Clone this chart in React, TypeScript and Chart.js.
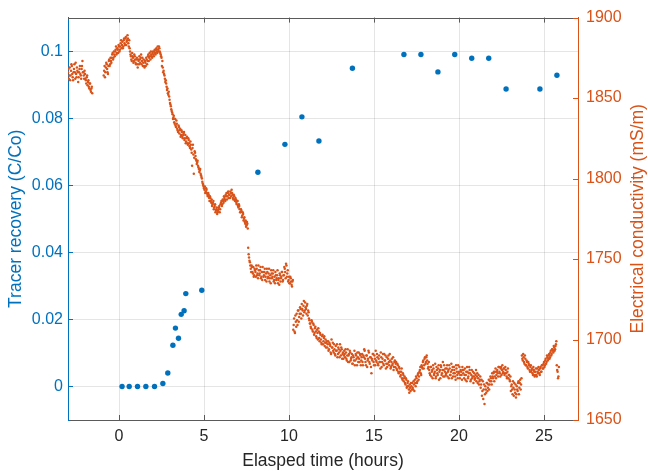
import { useEffect, useRef } from "react";
import { Chart, registerables } from "chart.js";

Chart.register(...registerables);

// ---------- Data ----------
const tracerTime = [0.18, 0.6, 1.09, 1.58, 2.09, 2.58, 2.87, 3.17, 3.32, 3.5, 3.66, 3.83, 3.93, 4.87, 8.17, 9.76, 10.76, 11.76, 13.73, 16.76, 17.76, 18.76, 19.75, 20.75, 21.75, 22.77, 24.76, 25.76];
const tracerRecovery = [0, 0, 0, 0, 0, 0.0009, 0.004, 0.0123, 0.0174, 0.0144, 0.0215, 0.0226, 0.0277, 0.0287, 0.0639, 0.0722, 0.0804, 0.0732, 0.0949, 0.099, 0.099, 0.0938, 0.099, 0.0979, 0.0979, 0.0887, 0.0887, 0.0928];

// Electrical conductivity logger: two interleaved channels (A on the 0.05 h grid, B offset by 0.025 h)
const ecStep = 0.05;
const ecOffsetB = 0.025;

const ecPreStart = -3.0;
const ecPre = [1866, 1862, 1869, 1864, 1871, 1865, 1861, 1868, 1866, 1872, 1863, 1867, 1860, 1866, 1870, 1864, 1868, 1873, 1866, 1862, 1865, 1861, 1863, 1858, 1861, 1856, 1859, 1854, 1857];
const ecPreB = [1868, 1864, 1861, 1867, 1870, 1863, 1866, 1871, 1862, 1865, 1869, 1866, 1863, 1868, 1865, 1862, 1870, 1866, 1864, 1867, 1862, 1859, 1864, 1860, 1857, 1859, 1855, 1856, 1853];

const ecRiseStart = -0.9;
const ecRise = [1864, 1870, 1866, 1872, 1868, 1865, 1873, 1870, 1875, 1872, 1877, 1874, 1879, 1876, 1880, 1877, 1881, 1878, 1882, 1880,
  1884, 1881, 1885, 1882, 1887, 1883, 1888, 1885, 1889, 1884, 1886, 1879, 1876, 1873, 1876, 1872, 1877, 1874, 1871, 1875,
  1869, 1873, 1876, 1872, 1877, 1873, 1870, 1874, 1869, 1872, 1875, 1871, 1876, 1873, 1878, 1874, 1877, 1875, 1879, 1876,
  1880, 1877, 1881, 1878, 1880, 1882, 1879, 1877, 1875];
const ecRiseB = [1867, 1863, 1869, 1871, 1866, 1870, 1874, 1871, 1873, 1875, 1878, 1875, 1877, 1879, 1882, 1878, 1880, 1883, 1879, 1882,
  1886, 1883, 1881, 1886, 1884, 1887, 1883, 1886, 1887, 1882, 1881, 1877, 1874, 1878, 1875, 1873, 1876, 1872, 1874, 1871,
  1874, 1871, 1874, 1875, 1871, 1875, 1872, 1870, 1873, 1870, 1874, 1873, 1877, 1875, 1876, 1879, 1876, 1878, 1877, 1879,
  1878, 1880, 1879, 1882, 1879, 1881, 1878, 1876, 1870];

const ecDropStart = 2.55;
const ecDrop = [1873, 1866, 1865, 1862, 1861, 1857, 1856, 1852, 1851, 1847, 1845, 1842, 1840, 1838, 1835, 1837, 1832, 1834, 1830, 1833,
  1828, 1831, 1827, 1829, 1825, 1828, 1824, 1827, 1823, 1826, 1821, 1824, 1820, 1823, 1818, 1808, 1821, 1803, 1817, 1814,
  1811, 1810, 1808, 1806, 1805, 1803, 1801, 1798, 1796, 1794, 1795, 1792, 1793, 1790, 1791, 1788, 1789, 1786, 1787, 1784,
  1786, 1782, 1784, 1780, 1782, 1779, 1781, 1783, 1781, 1785, 1783, 1787, 1785, 1788, 1786, 1789, 1787, 1791, 1788, 1790,
  1792, 1789, 1791, 1788, 1790, 1787, 1788, 1785, 1786, 1783, 1784, 1781, 1779, 1780, 1777, 1778, 1775, 1773, 1774, 1771,
  1772];
const ecDropB = [1869, 1867, 1864, 1860, 1859, 1855, 1853, 1854, 1849, 1846, 1843, 1841, 1837, 1839, 1834, 1833, 1836, 1831, 1829, 1832,
  1830, 1826, 1830, 1826, 1827, 1829, 1825, 1822, 1825, 1822, 1825, 1822, 1819, 1821, 1816, 1819, 1815, 1813, 1816, 1812,
  1809, 1811, 1807, 1804, 1806, 1802, 1800, 1797, 1795, 1793, 1791, 1794, 1791, 1789, 1790, 1786, 1788, 1785, 1783, 1785,
  1781, 1783, 1779, 1781, 1778, 1780, 1782, 1779, 1784, 1786, 1784, 1786, 1789, 1787, 1790, 1791, 1789, 1792, 1790, 1788,
  1791, 1793, 1790, 1787, 1789, 1786, 1787, 1784, 1786, 1782, 1783, 1779, 1781, 1776, 1779, 1774, 1776, 1772, 1770, 1773,
  1769];

const ecMidStart = 7.6;
const ecMid = [1757, 1751, 1748, 1744, 1746, 1742, 1745, 1740, 1743, 1739, 1744, 1741, 1746, 1740, 1743, 1738, 1742, 1745, 1739, 1742,
  1737, 1741, 1744, 1738, 1741, 1736, 1740, 1743, 1738, 1741, 1736, 1739, 1742, 1737, 1740, 1735, 1738, 1741, 1736, 1739,
  1742, 1737, 1740, 1744, 1738, 1746, 1741, 1736, 1739, 1735, 1738, 1734, 1736];
const ecMidB = [1753, 1749, 1746, 1742, 1745, 1741, 1739, 1744, 1742, 1746, 1740, 1738, 1743, 1741, 1745, 1739, 1737, 1742, 1740, 1744,
  1739, 1736, 1742, 1739, 1744, 1738, 1735, 1741, 1739, 1743, 1737, 1735, 1740, 1738, 1743, 1737, 1734, 1740, 1738, 1742,
  1736, 1740, 1745, 1742, 1747, 1739, 1743, 1737, 1735, 1739, 1736, 1733, 1737];

const ecLateStart = 10.25;
const ecLate = [
  1706, 1713, 1704, 1711, 1716, 1709, 1718, 1714, 1720, 1716, 1722, 1718, 1721, 1717, 1723, 1719, 1721, 1715, 1717, 1712,
  1710, 1707, 1711, 1705, 1709, 1704, 1708, 1702, 1706, 1700, 1705, 1699, 1703, 1698, 1702, 1697, 1701, 1696, 1700, 1698,
  1695, 1699, 1694, 1697, 1692, 1700, 1695, 1693, 1697, 1691, 1696, 1693, 1689, 1695, 1692, 1697, 1690, 1694, 1691, 1688,
  1693, 1689, 1692, 1687, 1694, 1690, 1686, 1692, 1688, 1691, 1685, 1689, 1693, 1687, 1690, 1684, 1689, 1692, 1686, 1690,
  1687, 1691, 1684, 1689, 1693, 1686, 1690, 1683, 1688, 1692, 1685, 1689, 1679, 1687, 1691, 1684, 1688, 1693, 1686, 1689,
  1684, 1690, 1686, 1692, 1683, 1688, 1685, 1691, 1687, 1682, 1689, 1685, 1690, 1684, 1687, 1683, 1688, 1685, 1681, 1686,
  1683, 1686, 1681, 1684, 1679, 1682, 1677, 1680, 1676, 1679, 1674, 1677, 1672, 1675, 1671, 1674, 1669, 1672, 1668, 1671,
  1673, 1669, 1672, 1675, 1671, 1676, 1674, 1679, 1677, 1681, 1679, 1684, 1682, 1687, 1684, 1689, 1686, 1690, 1685, 1683,
  1681, 1678, 1683, 1680, 1676, 1682, 1679, 1685, 1677, 1681, 1678, 1684, 1680, 1676, 1683, 1679, 1686, 1681, 1677, 1682,
  1679, 1684, 1680, 1676, 1682, 1678, 1685, 1681, 1677, 1683, 1679, 1675, 1682, 1678, 1684, 1680, 1676, 1681, 1678, 1683,
  1679, 1676, 1682, 1678, 1674, 1680, 1677, 1683, 1679, 1675, 1681, 1677, 1673, 1679, 1676, 1681, 1677, 1673, 1678, 1674,
  1677, 1672, 1665, 1674, 1669, 1660, 1671, 1667, 1673, 1670, 1675, 1672, 1677, 1674, 1679, 1676, 1680, 1677, 1682, 1678,
  1681, 1677, 1683, 1679, 1682, 1678, 1684, 1680, 1682, 1679, 1681, 1677, 1680, 1676, 1678, 1674, 1668, 1672, 1666, 1670,
  1673, 1667, 1664, 1671, 1668, 1674, 1670, 1675, 1672, 1690, 1687, 1689, 1685, 1688, 1684, 1686, 1682, 1685, 1681, 1683,
  1680, 1682, 1678, 1681, 1677, 1680, 1678, 1682, 1679, 1681, 1678, 1683, 1680, 1684, 1682, 1686, 1684, 1688, 1686, 1689,
  1688, 1691, 1689, 1693, 1691, 1694, 1692, 1695, 1694, 1697, 1684, 1680, 1677,
];
const ecLateB = [
  1709, 1705, 1715, 1708, 1712, 1718, 1711, 1716, 1719, 1713, 1719, 1715, 1724, 1718, 1720, 1716, 1722, 1718, 1713, 1710,
  1708, 1712, 1706, 1710, 1703, 1707, 1705, 1701, 1704, 1707, 1701, 1704, 1700, 1697, 1703, 1699, 1702, 1698, 1695, 1699,
  1697, 1693, 1698, 1696, 1691, 1695, 1698, 1692, 1694, 1690, 1693, 1697, 1691, 1694, 1689, 1693, 1695, 1688, 1692, 1690,
  1691, 1694, 1688, 1690, 1686, 1691, 1693, 1687, 1689, 1685, 1690, 1687, 1684, 1691, 1688, 1692, 1686, 1688, 1691, 1684,
  1689, 1686, 1690, 1694, 1688, 1684, 1690, 1687, 1693, 1686, 1689, 1683, 1688, 1691, 1686, 1690, 1684, 1687, 1691, 1685,
  1688, 1686, 1682, 1689, 1686, 1691, 1684, 1687, 1690, 1685, 1683, 1688, 1686, 1691, 1682, 1686, 1684, 1689, 1683, 1687,
  1685, 1682, 1685, 1680, 1683, 1680, 1678, 1682, 1675, 1678, 1676, 1673, 1676, 1670, 1673, 1671, 1667, 1670, 1673, 1669,
  1670, 1674, 1668, 1673, 1677, 1673, 1678, 1675, 1680, 1683, 1678, 1683, 1686, 1682, 1688, 1685, 1689, 1687, 1682, 1686,
  1679, 1683, 1677, 1681, 1684, 1678, 1680, 1676, 1683, 1679, 1682, 1675, 1681, 1684, 1678, 1681, 1677, 1684, 1680, 1678,
  1682, 1677, 1681, 1684, 1678, 1680, 1676, 1683, 1679, 1681, 1677, 1684, 1680, 1676, 1679, 1683, 1678, 1680, 1675, 1681,
  1681, 1678, 1675, 1680, 1683, 1676, 1679, 1681, 1674, 1678, 1676, 1680, 1677, 1675, 1678, 1674, 1679, 1676, 1672, 1675,
  1670, 1675, 1668, 1663, 1672, 1666, 1669, 1673, 1668, 1672, 1669, 1674, 1676, 1672, 1677, 1679, 1674, 1680, 1676, 1680,
  1679, 1683, 1680, 1677, 1683, 1681, 1679, 1682, 1678, 1683, 1679, 1676, 1682, 1678, 1675, 1677, 1671, 1669, 1674, 1665,
  1669, 1672, 1666, 1669, 1673, 1666, 1673, 1669, 1676, 1688, 1691, 1686, 1690, 1684, 1687, 1683, 1686, 1684, 1680, 1684,
  1681, 1679, 1683, 1680, 1678, 1682, 1677, 1680, 1683, 1679, 1682, 1680, 1684, 1682, 1685, 1683, 1687, 1685, 1690, 1687,
  1690, 1688, 1692, 1690, 1694, 1693, 1696, 1693, 1696, 1699, 1681, 1676, 1683,
];

const xTicks = [0, 5, 10, 15, 20, 25];
const leftTicks = [0, 0.02, 0.04, 0.06, 0.08, 0.1];
const rightTicks = [1650, 1700, 1750, 1800, 1850, 1900];

const xTitle = "Elasped time (hours)";
const leftTitle = "Tracer recovery (C/Co)";
const rightTitle = "Electrical conductivity (mS/m)";

// ---------- Styles ----------
const BLUE = "#0072BD";
const ORANGE = "#D95319";
const DARK = "#262626";
const AXIS_GRAY = "#5a5a5a";
const GRID = "rgba(38,38,38,0.12)";
const FONT = "'Liberation Sans', Arial, Helvetica, sans-serif";

const ecSegments = [
  { start: ecPreStart, values: ecPre },
  { start: ecPreStart + ecOffsetB, values: ecPreB },
  { start: ecRiseStart, values: ecRise },
  { start: ecRiseStart + ecOffsetB, values: ecRiseB },
  { start: ecDropStart, values: ecDrop },
  { start: ecDropStart + ecOffsetB, values: ecDropB },
  { start: ecMidStart, values: ecMid },
  { start: ecMidStart + ecOffsetB, values: ecMidB },
  { start: ecLateStart, values: ecLate },
  { start: ecLateStart + ecOffsetB, values: ecLateB },
];

const inwardTicks = {
  id: "inwardTicks",
  afterDraw(chart: any) {
    const { ctx, chartArea: a, scales } = chart;
    const len = 5;
    ctx.save();
    ctx.lineWidth = 1;
    // top box line
    ctx.strokeStyle = AXIS_GRAY;
    ctx.beginPath();
    ctx.moveTo(a.left, Math.round(a.top) + 0.5);
    ctx.lineTo(a.right, Math.round(a.top) + 0.5);
    ctx.stroke();
    // x ticks (bottom and top)
    ctx.beginPath();
    xTicks.forEach((v) => {
      const px = Math.round(scales.x.getPixelForValue(v)) + 0.5;
      ctx.moveTo(px, a.bottom);
      ctx.lineTo(px, a.bottom - len);
      ctx.moveTo(px, a.top);
      ctx.lineTo(px, a.top + len);
    });
    ctx.stroke();
    // left ticks
    ctx.strokeStyle = BLUE;
    ctx.beginPath();
    leftTicks.forEach((v) => {
      const py = Math.round(scales.y.getPixelForValue(v)) + 0.5;
      ctx.moveTo(a.left, py);
      ctx.lineTo(a.left + len, py);
    });
    ctx.stroke();
    // right ticks
    ctx.strokeStyle = ORANGE;
    ctx.beginPath();
    rightTicks.forEach((v) => {
      const py = Math.round(scales.y2.getPixelForValue(v)) + 0.5;
      ctx.moveTo(a.right, py);
      ctx.lineTo(a.right - len, py);
    });
    ctx.stroke();
    // right axis title, reading bottom-to-top
    ctx.fillStyle = ORANGE;
    ctx.font = `17.5px ${FONT}`;
    ctx.textAlign = "center";
    ctx.textBaseline = "middle";
    ctx.translate(638.5, (a.top + a.bottom) / 2);
    ctx.rotate(-Math.PI / 2);
    ctx.fillText(rightTitle, 0, 0);
    ctx.restore();
  },
};

export default function App() {
  const canvasRef = useRef<HTMLCanvasElement | null>(null);

  useEffect(() => {
    if (!canvasRef.current) return;
    const ecPoints = ecSegments.flatMap((seg) =>
      seg.values.map((v, i) => ({ x: Math.round((seg.start + i * ecStep) * 1000) / 1000, y: v }))
    );
    const tracerPoints = tracerTime.map((t, i) => ({ x: t, y: tracerRecovery[i] }));

    const chart = new Chart(canvasRef.current, {
      type: "scatter",
      data: {
        datasets: [
          {
            label: "Tracer recovery",
            data: tracerPoints,
            yAxisID: "y",
            pointRadius: 2.7,
            pointBackgroundColor: BLUE,
            pointBorderWidth: 0,
            backgroundColor: BLUE,
            borderColor: BLUE,
          },
          {
            label: "Electrical conductivity",
            data: ecPoints,
            yAxisID: "y2",
            pointRadius: 1.25,
            pointBackgroundColor: ORANGE,
            pointBorderWidth: 0,
            backgroundColor: ORANGE,
            borderColor: ORANGE,
          },
        ],
      },
      options: {
        responsive: false,
        animation: false,
        layout: { padding: { top: 14, left: 0, right: 0, bottom: 0 } },
        plugins: { legend: { display: false }, tooltip: { enabled: false } },
        scales: {
          x: {
            type: "linear",
            position: "bottom",
            min: -3,
            max: 27,
            afterBuildTicks: (s: any) => {
              s.ticks = xTicks.map((v) => ({ value: v }));
            },
            afterFit: (s: any) => {
              s.height = 51;
            },
            grid: { color: GRID, drawTicks: false },
            border: { color: AXIS_GRAY, width: 1 },
            ticks: {
              color: DARK,
              font: { family: FONT, size: 16 },
              padding: 7,
              maxRotation: 0,
              autoSkip: false,
              callback: (v: any) => String(v),
            },
            title: {
              display: true,
              text: xTitle,
              color: DARK,
              font: { family: FONT, size: 17.5, lineHeight: 1 },
              padding: { top: 0, bottom: 1 },
            },
          },
          y: {
            type: "linear",
            position: "left",
            min: -0.01,
            max: 0.11,
            afterBuildTicks: (s: any) => {
              s.ticks = leftTicks.map((v) => ({ value: v }));
            },
            afterFit: (s: any) => {
              s.width = 68;
            },
            grid: { color: GRID, drawTicks: false },
            border: { color: BLUE, width: 1 },
            ticks: {
              color: BLUE,
              font: { family: FONT, size: 16 },
              padding: 5,
              autoSkip: false,
              callback: (v: any) => String(Math.round(Number(v) * 100) / 100),
            },
            title: {
              display: true,
              text: leftTitle,
              color: BLUE,
              font: { family: FONT, size: 17.5, lineHeight: 1 },
              padding: { top: 7, bottom: 0 },
            },
          },
          y2: {
            type: "linear",
            position: "right",
            min: 1650,
            max: 1900,
            afterBuildTicks: (s: any) => {
              s.ticks = rightTicks.map((v) => ({ value: v }));
            },
            afterFit: (s: any) => {
              s.width = 70;
            },
            grid: { display: false, drawTicks: false },
            border: { display: true, color: ORANGE, width: 1 },
            ticks: {
              color: ORANGE,
              font: { family: FONT, size: 16 },
              padding: 8,
              autoSkip: false,
              callback: (v: any) => String(v),
            },
            title: { display: false },
          },
        },
      },
      plugins: [inwardTicks],
    } as any);

    return () => chart.destroy();
  }, []);

  return (
    <div style={{ position: "fixed", left: 0, top: 0, width: 648, height: 471, background: "#fff" }}>
      <canvas ref={canvasRef} width={648} height={471} style={{ display: "block" }} />
    </div>
  );
}
